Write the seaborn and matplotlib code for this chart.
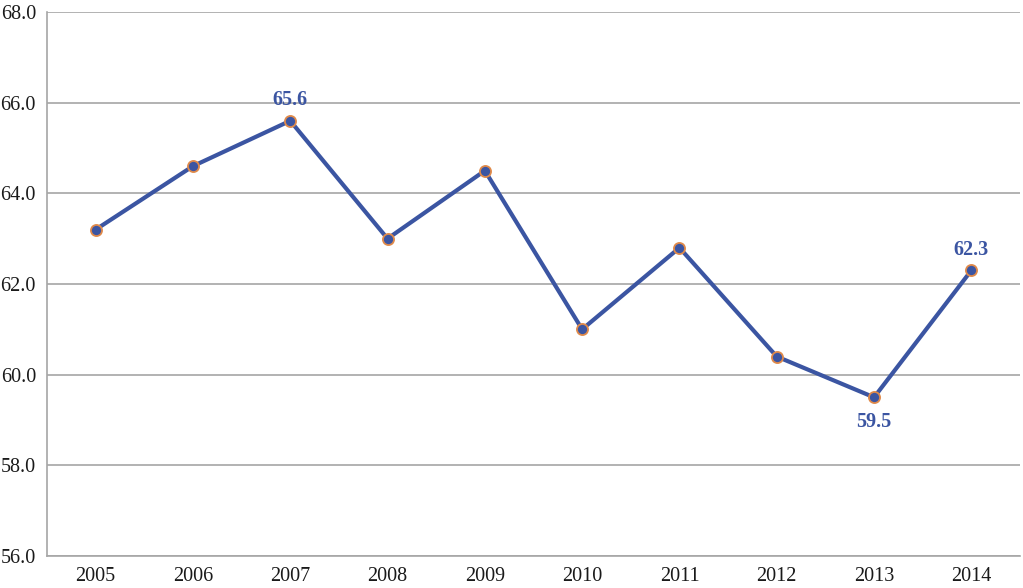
import matplotlib
matplotlib.use("Agg")
import matplotlib.pyplot as plt
import seaborn as sns
import pandas as pd
from matplotlib.ticker import FixedLocator

years = [2005, 2006, 2007, 2008, 2009, 2010, 2011, 2012, 2013, 2014]
values = [63.2, 64.6, 65.6, 63.0, 64.5, 61.0, 62.8, 60.4, 59.5, 62.3]
labeled = {2007: "above", 2013: "below", 2014: "above"}

sns.set_style("white")
plt.rcParams['font.family'] = ['Liberation Serif', 'DejaVu Serif']

df = pd.DataFrame({"year": years, "value": values})

fig = plt.figure(figsize=(10.23, 5.88), dpi=100)
ax = fig.add_axes([47/1023, 32/588, 973/1023, 544/588])

line_color = "#3B55A2"
sns.lineplot(data=df, x="year", y="value", ax=ax, color=line_color, linewidth=3,
             marker="o", markersize=8, markerfacecolor=line_color,
             markeredgecolor="#E08A4A", markeredgewidth=1.3, zorder=3)

ax.set_xlim(2004.5, 2014.5)
ax.set_ylim(56, 68)
ax.set_yticks([56, 58, 60, 62, 64, 66, 68])
ax.set_yticklabels([f"{v:.1f}" for v in [56, 58, 60, 62, 64, 66, 68]])
ax.set_xticks(years)
ax.set_xticklabels([str(y) for y in years])
ax.xaxis.set_minor_locator(FixedLocator([y - 0.5 for y in years] + [2014.5]))

ax.grid(axis="y", color="#A6A6A6", linewidth=1.2, zorder=0)
ax.set_axisbelow(True)
for s in ["top", "right"]:
    ax.spines[s].set_visible(False)
for s in ["left", "bottom"]:
    ax.spines[s].set_color("#A6A6A6")
    ax.spines[s].set_linewidth(1.2)

ax.tick_params(axis="x", which="major", length=0, labelsize=14.5, pad=8, colors="#1a1a1a")
ax.tick_params(axis="x", which="minor", length=5, width=1.2, color="#A6A6A6", direction="out")
ax.tick_params(axis="y", which="major", length=5, width=1.2, color="#A6A6A6", labelsize=14.5, pad=3, labelcolor="#1a1a1a")
ax.set_xlabel("")
ax.set_ylabel("")

for y, v in zip(years, values):
    if y in labeled:
        off = 15 if labeled[y] == "above" else -18
        ax.annotate(f"{v:.1f}", (y, v), xytext=(0, off), textcoords="offset points",
                    ha="center", va="center", fontsize=14.5, fontweight="bold", color=line_color)

fig.savefig("out.png", dpi=100)
